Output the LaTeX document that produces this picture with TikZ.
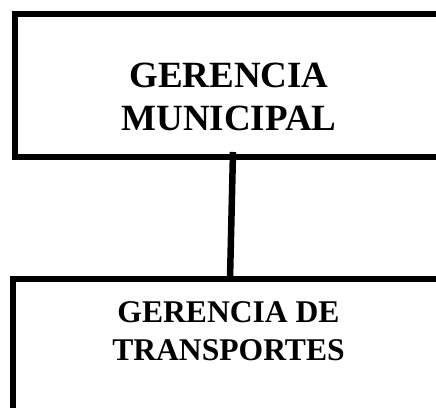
\documentclass[tikz,border=0pt]{standalone}
\usepackage{fontspec}
\setmainfont{Liberation Serif}
\tikzset{
	box/.style={line width=6pt},
	link/.style={line width=6.5pt},
	title/.style={align=center, font=\bfseries\fontsize{37}{43}\selectfont},
	subtitle/.style={align=center, font=\bfseries\fontsize{31.6}{38}\selectfont}
}
\begin{document}
\begin{tikzpicture}[x=1pt, y=-1pt, draw=black]
	\useasboundingbox (0,0) rectangle (436,407);
	\clip (0,0) rectangle (436,407);
	\draw[box] (15,13.5) rectangle (520,156.5);
	\draw[box] (13,278.5) rectangle (520,460);
	\node[title]    (municipal)   at (229,97)    {GERENCIA\\MUNICIPAL};
	\node[subtitle] (transportes) at (228.5,331) {GERENCIA DE\\TRANSPORTES};
	\coordinate (top) at (233,152);
	\coordinate (bot) at (230,279);
	\draw[link] (top) -- (bot);
\end{tikzpicture}
\end{document}
